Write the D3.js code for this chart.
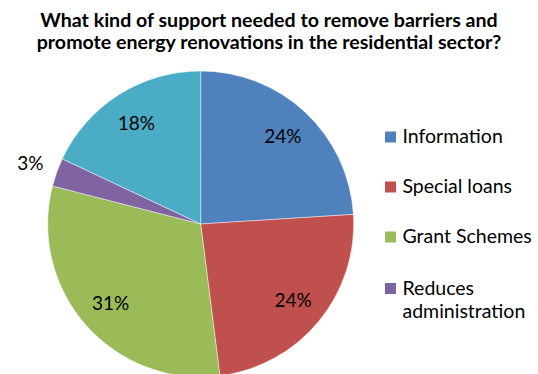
<!DOCTYPE html>
<html>
<head>
<meta charset="utf-8">
<script src="https://cdn.jsdelivr.net/npm/d3@7"></script>
<style>
  html, body { margin: 0; padding: 0; background: #fff; }
  svg { display: block; }
  text { font-family: Lato, "Open Sans", sans-serif; fill: #000; }
</style>
</head>
<body>
<svg id="chart" width="538" height="374"></svg>
<script>
// Survey answers, share of respondents in percent
const categories = ["Information", "Special loans", "Grant Schemes", "Reduces administration", "Other"];
const values = [24, 24, 31, 3, 18];
const colors = ["#4F81BD", "#C0504D", "#9BBB59", "#8064A2", "#4BACC6"];
const titleLines = [
  "What kind of support needed to remove barriers and",
  "promote energy renovations in the residential sector?"
];
// The legend box only has room for the first four entries
const legendCount = 4;

const svg = d3.select("#chart");
const W = 538;

// Title
svg.append("g")
  .selectAll("text")
  .data(titleLines)
  .join("text")
  .attr("x", W / 2)
  .attr("y", (d, i) => 26.5 + i * 22)
  .attr("text-anchor", "middle")
  .attr("font-weight", "bold")
  .attr("font-size", 19.6)
  .text(d => d);

// Pie
const cx = 200.7, cy = 224, R = 153;
const data = categories.map((c, i) => ({ name: c, value: values[i], color: colors[i] }));
const pie = d3.pie().value(d => d.value).sort(null);
const arcs = pie(data);
const arc = d3.arc().innerRadius(0).outerRadius(R);
const labelArc = d3.arc().innerRadius(120).outerRadius(120);
const outsideArc = d3.arc().innerRadius(181).outerRadius(181);

const g = svg.append("g").attr("transform", `translate(${cx},${cy})`);
g.selectAll("path")
  .data(arcs)
  .join("path")
  .attr("d", arc)
  .attr("fill", d => d.data.color)
  .attr("stroke", "#ffffff")
  .attr("stroke-opacity", 0.6)
  .attr("stroke-width", 0.75);

const pct = d3.format(".0f");
g.selectAll("text.pct")
  .data(arcs)
  .join("text")
  .attr("class", "pct")
  .attr("transform", d => {
    const c = (d.data.value < 5 ? outsideArc : labelArc).centroid(d);
    return `translate(${c[0]},${c[1]})`;
  })
  .attr("text-anchor", "middle")
  .attr("dy", "0.36em")
  .attr("font-size", 19)
  .text(d => pct(d.data.value) + "%");

// Legend
const legendRows = [
  { lines: ["Information"], y: 143 },
  { lines: ["Special loans"], y: 193 },
  { lines: ["Grant Schemes"], y: 243 },
  { lines: ["Reduces", "administration"], y: 294.5 }
];
const lg = svg.append("g");
const items = lg.selectAll("g")
  .data(data.slice(0, legendCount))
  .join("g")
  .attr("transform", (d, i) => `translate(385,${legendRows[i].y})`);
items.append("rect")
  .attr("x", 0).attr("y", -11.5)
  .attr("width", 11).attr("height", 11)
  .attr("fill", d => d.color);
items.each(function (d, i) {
  const t = d3.select(this).append("text")
    .attr("x", 17.5).attr("y", 0)
    .attr("font-size", 19.5);
  legendRows[i].lines.forEach((line, j) => {
    t.append("tspan").attr("x", 17.5).attr("dy", j === 0 ? 0 : 23.5).text(line);
  });
});
</script>
</body>
</html>
